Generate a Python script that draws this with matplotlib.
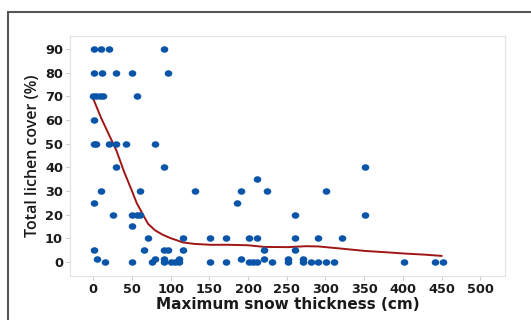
import matplotlib.pyplot as plt
from matplotlib.patches import Rectangle
from matplotlib.path import Path
from matplotlib.transforms import Affine2D

plt.rcParams['font.family'] = ['DejaVu Sans']

# Plot data: maximum snow thickness (cm) vs total lichen cover (%)
snow = [1, 9.5, 20, 91,
        1, 11, 30, 50, 96,
        0, 4, 9, 12, 56,
        1,
        1, 3, 21, 30, 42, 80,
        30, 91, 351,
        211,
        9.5, 60, 131, 191, 225, 301,
        1, 186,
        25, 50, 56, 61, 261, 351,
        50,
        71, 116, 151, 171, 201, 211, 261, 291, 321,
        1, 65, 91, 96, 116, 221, 261,
        5, 80, 91, 111, 191, 221, 251, 271,
        15, 50, 76, 91, 101, 106, 111, 151, 171, 201, 206, 211, 231, 251,
        271, 281, 291, 301, 311, 402, 442, 452]
cover = [90, 90, 90, 90,
         80, 80, 80, 80, 80,
         70, 70, 70, 70, 70,
         60,
         50, 50, 50, 50, 50, 50,
         40, 40, 40,
         35,
         30, 30, 30, 30, 30, 30,
         25, 25,
         20, 20, 20, 20, 20, 20,
         15,
         10, 10, 10, 10, 10, 10, 10, 10, 10,
         5, 5, 5, 5, 5, 5, 5,
         1, 1, 1, 1, 1, 1, 1, 1,
         0, 0, 0, 0, 0, 0, 0, 0, 0, 0, 0, 0, 0, 0,
         0, 0, 0, 0, 0, 0, 0, 0]

# Smoothed trend line
fit_x = [0, 10, 20, 30, 40, 50, 56, 65, 71, 80, 90, 100, 116, 130, 151, 175,
         200, 221, 251, 275, 291, 320, 351, 380, 402, 430, 450]
fit_y = [69, 61, 54, 47, 38, 30, 25, 19.5, 16, 13.3, 11.4, 10, 8.2, 7.6, 7.2, 7.2,
         7.0, 6.3, 6.2, 6.6, 6.5, 5.6, 4.6, 4.0, 3.5, 3.0, 2.5]

# slightly wide oval marker
oval = Path.unit_circle().transformed(Affine2D().scale(1.0, 0.86))

fig = plt.figure(figsize=(5.31, 3.2), dpi=100)
ax = fig.add_axes([70 / 531, 44 / 320, 435 / 531, 240 / 320])

ax.scatter(snow, cover, s=30, marker=oval, color='#0a55a8', zorder=3, linewidths=0)
ax.plot(fit_x, fit_y, color='#a01515', lw=1.4, zorder=2)

ax.set_xlim(-30, 532)
ax.set_ylim(-6, 95.5)
ax.set_xticks(range(0, 501, 50))
ax.set_yticks(range(0, 91, 10))
ax.tick_params(length=3, color='#cccccc', pad=2)
for lbl in ax.get_xticklabels() + ax.get_yticklabels():
    lbl.set_fontsize(9.3)
    lbl.set_fontweight('bold')
    lbl.set_color('#1a1a1a')
for sp in ax.spines.values():
    sp.set_color('#e3e3e3')
    sp.set_linewidth(0.8)

ax.set_xlabel('Maximum snow thickness (cm)', fontsize=11, fontweight='bold',
              color='#1a1a1a', labelpad=1)
ax.set_ylabel('Total lichen cover (%)', fontsize=11.5, family='Open Sans',
              fontweight='semibold', color='#1a1a1a', labelpad=3)

# Outer frame around the panel
fig.patches.append(Rectangle((8 / 531, -0.05), 1.1, (320 - 12) / 320 + 0.05,
                             transform=fig.transFigure, fill=False,
                             edgecolor='#555555', lw=1.5))

fig.savefig('out.png', dpi=100)
